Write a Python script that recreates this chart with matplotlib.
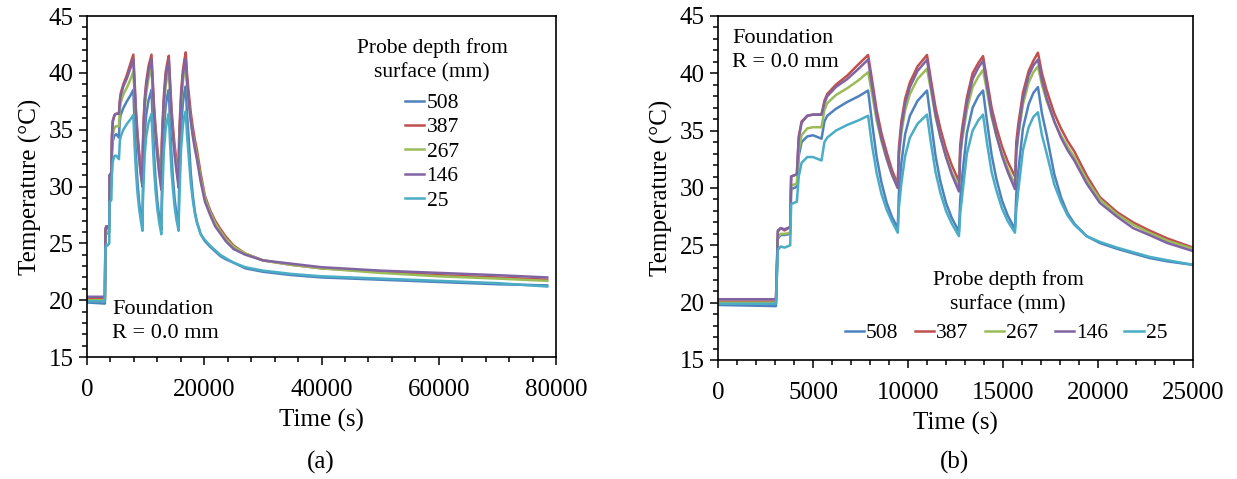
import matplotlib
matplotlib.use('Agg')
import matplotlib.pyplot as plt
from matplotlib.ticker import MultipleLocator

plt.rcParams['font.family'] = ['Liberation Serif', 'DejaVu Serif']

# 時間 (s)
time_s = [0, 3050, 3150, 3300, 3500, 3800, 3850, 4150, 4250, 4400, 4700, 5000, 5450, 5600, 5750,
          6200, 6800, 7400, 7900, 8100, 8350, 8600, 8880, 9150, 9460, 9520, 9650, 9850, 10100,
          10500, 11000, 11200, 11450, 11700, 12000, 12300, 12680, 12750, 12850, 13100, 13400,
          13700, 13950, 14150, 14400, 14650, 14950, 15250, 15630, 15700, 15800, 16050, 16350,
          16600, 16840, 17050, 17300, 17700, 18050, 18400, 18750, 19400, 20100, 21000, 21850,
          22700, 23650, 25000, 27000, 30000, 35000, 40000, 50000, 60000, 70000, 78500]

# 各深度溫度 (°C)
t_508 = [19.8, 19.7, 25.6, 25.9, 25.9, 26.0, 29.9, 30.1, 32.8, 34.0, 34.5, 34.6, 34.3, 35.8, 36.3,
         36.9, 37.5, 38.0, 38.5, 35.8, 32.7, 30.5, 28.7, 27.5, 26.5, 29.5, 32.2, 34.7, 36.3,
         37.6, 38.5, 35.9, 32.8, 30.6, 28.7, 27.4, 26.2, 29.0, 31.0, 34.8, 37.0,
         38.0, 38.5, 35.9, 32.9, 30.8, 28.9, 27.6, 26.4, 29.5, 31.4, 35.2, 37.3,
         38.3, 38.8, 36.5, 34.6, 31.2, 29.2, 27.8, 26.9, 25.8, 25.2, 24.7, 24.3,
         23.9, 23.6, 23.3, 22.8, 22.5, 22.2, 22.0, 21.8, 21.6, 21.4, 21.3]
t_387 = [20.1, 20.1, 26.2, 26.5, 26.3, 26.6, 31.0, 31.2, 34.5, 35.8, 36.3, 36.4, 36.4, 37.6, 38.2,
         39.0, 39.8, 40.8, 41.6, 39.5, 36.8, 34.8, 33.1, 31.6, 30.3, 33.5, 35.8, 37.8, 39.2,
         40.6, 41.6, 39.5, 37.0, 35.2, 33.4, 32.0, 30.6, 33.8, 35.2, 37.9, 40.0,
         40.9, 41.5, 39.5, 37.0, 35.3, 33.6, 32.3, 31.0, 34.0, 35.5, 38.3, 40.2,
         41.1, 41.8, 40.0, 38.5, 36.5, 35.2, 34.1, 33.2, 31.1, 29.2, 27.9, 27.0,
         26.3, 25.6, 24.8, 24.1, 23.5, 23.1, 22.8, 22.5, 22.2, 22.0, 21.8]
t_267 = [20.0, 20.0, 25.7, 26.0, 26.0, 26.1, 30.2, 30.4, 33.3, 34.6, 35.2, 35.3, 35.3, 36.8, 37.4,
         38.1, 38.7, 39.4, 40.1, 38.3, 35.9, 34.1, 32.5, 31.2, 30.0, 32.7, 34.8, 36.8, 38.2,
         39.5, 40.4, 38.6, 36.2, 34.5, 32.8, 31.4, 30.1, 32.8, 34.2, 36.8, 38.8,
         39.7, 40.3, 38.5, 36.2, 34.6, 33.0, 31.7, 30.3, 33.0, 34.5, 37.3, 39.2,
         40.1, 40.6, 39.0, 37.6, 35.8, 34.6, 33.6, 32.7, 30.7, 29.0, 27.7, 26.8,
         26.1, 25.4, 24.7, 24.1, 23.5, 23.1, 22.8, 22.4, 22.1, 21.9, 21.7]
t_146 = [20.3, 20.3, 26.3, 26.5, 26.4, 26.6, 31.0, 31.2, 34.3, 35.7, 36.3, 36.4, 36.4, 37.4, 38.0,
         38.8, 39.5, 40.4, 41.2, 39.0, 36.3, 34.3, 32.6, 31.2, 30.0, 33.0, 35.3, 37.4, 38.8,
         40.2, 41.2, 39.0, 36.4, 34.5, 32.7, 31.2, 29.7, 33.0, 34.6, 37.4, 39.5,
         40.5, 41.1, 39.0, 36.4, 34.6, 32.8, 31.4, 29.9, 33.2, 34.8, 37.8, 39.8,
         40.7, 41.2, 39.4, 37.8, 35.8, 34.4, 33.3, 32.4, 30.4, 28.7, 27.5, 26.5,
         25.9, 25.2, 24.5, 24.0, 23.5, 23.2, 22.9, 22.6, 22.4, 22.2, 22.0]
t_25 = [19.9, 19.9, 24.6, 24.9, 24.8, 25.0, 28.6, 28.8, 31.0, 32.2, 32.7, 32.7, 32.4, 34.0, 34.4,
        35.0, 35.5, 35.9, 36.3, 33.8, 31.3, 29.5, 28.1, 27.1, 26.1, 28.3, 30.4, 32.8, 34.4,
        35.6, 36.4, 34.0, 31.4, 29.6, 28.0, 26.9, 25.8, 27.8, 29.3, 33.0, 35.0,
        35.9, 36.4, 34.0, 31.4, 29.8, 28.2, 27.1, 26.1, 28.2, 29.7, 33.3, 35.3,
        36.2, 36.6, 34.6, 33.0, 30.3, 28.8, 27.6, 26.8, 25.8, 25.3, 24.8, 24.4,
        24.0, 23.7, 23.3, 22.9, 22.6, 22.3, 22.1, 21.9, 21.7, 21.5, 21.2]

depth_labels = ['508', '387', '267', '146', '25']
series = [t_508, t_387, t_267, t_146, t_25]
colors = ['#4F81BD', '#C0504D', '#9BBB59', '#8064A2', '#4BACC6']

W, H = 1237, 479


def fx(px):
    return px / W


def fy(py):
    return 1 - py / H


def style_axes(ax, xmax, xmajor, xminor):
    """設定座標軸樣式"""
    ax.set_xlim(0, xmax)
    ax.set_ylim(15, 45)
    ax.xaxis.set_major_locator(MultipleLocator(xmajor))
    ax.xaxis.set_minor_locator(MultipleLocator(xminor))
    ax.yaxis.set_major_locator(MultipleLocator(5))
    ax.yaxis.set_minor_locator(MultipleLocator(1))
    ax.tick_params(which='both', direction='out', width=1.1, labelsize=18, top=False, right=False)
    ax.tick_params(which='major', length=5.5)
    ax.tick_params(which='minor', length=3.5)
    ax.tick_params(axis='x', pad=10)
    ax.tick_params(axis='y', pad=4)
    for sp in ax.spines.values():
        sp.set_linewidth(1.2)
    ax.set_xlabel('Time (s)', fontsize=18, labelpad=6)
    ax.set_ylabel('Temperature (°C)', fontsize=18, labelpad=5)


def add_legend(ax, cx, top, ncol):
    """圖例: 標題另外畫, 圖例只放線條"""
    ax.legend(loc='upper center', bbox_to_anchor=(fx(cx), fy(top)), bbox_transform=fig.transFigure,
              ncol=ncol, frameon=False, fontsize=15.5, borderpad=0, borderaxespad=0,
              handlelength=0.9, handletextpad=0.1, labelspacing=0.2, columnspacing=0.75)


fig = plt.figure(figsize=(12.37, 4.79), dpi=100)
ax1 = fig.add_axes([fx(87), fy(357), 469 / W, 341 / H])
ax2 = fig.add_axes([fx(718), fy(360), 475 / W, 344 / H])

for ax in (ax1, ax2):
    for vals, lab, c in zip(series, depth_labels, colors):
        ax.plot(time_s, vals, color=c, lw=1.8, label=lab)

style_axes(ax1, 80000, 20000, 4000)
style_axes(ax2, 25000, 5000, 1000)

# 圖例標題
fig.text(fx(432), fy(60), 'Probe depth from\nsurface (mm)', fontsize=15.5, ha='center', va='center',
         multialignment='center', linespacing=1.35)
fig.text(fx(1008), fy(292), 'Probe depth from\nsurface (mm)', fontsize=15.5, ha='center', va='center',
         multialignment='center', linespacing=1.35)
add_legend(ax1, 432, 93, 1)
add_legend(ax2, 1006, 323, 5)

fig.text(fx(112), fy(321.5), 'Foundation\nR = 0.0 mm', fontsize=16, ha='left', va='center', linespacing=1.3)
fig.text(fx(732), fy(50.5), 'Foundation\nR = 0.0 mm', fontsize=16, ha='left', va='center', linespacing=1.3)

fig.text(fx(321), fy(462), '(a)', fontsize=18, ha='center', va='center')
fig.text(fx(955), fy(462), '(b)', fontsize=18, ha='center', va='center')

fig.savefig('out.png', dpi=100)
